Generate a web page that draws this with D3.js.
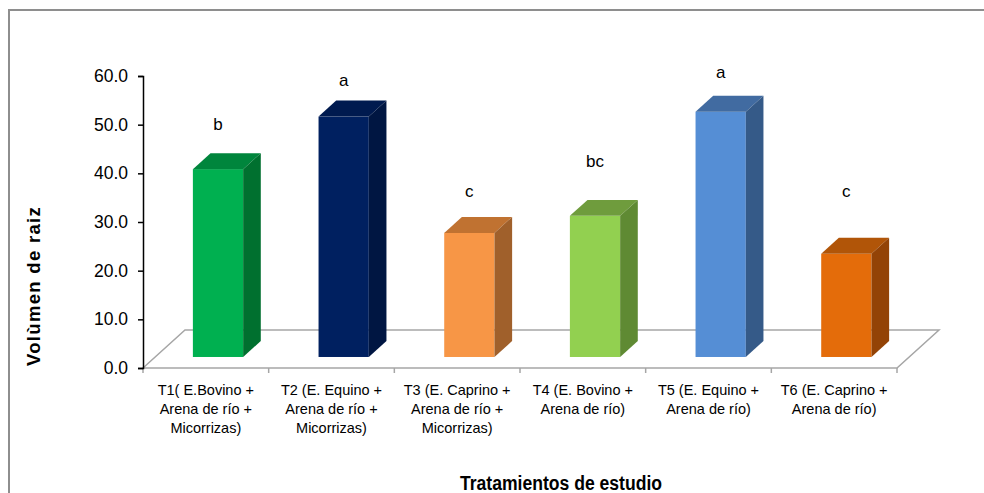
<!DOCTYPE html>
<html>
<head>
<meta charset="utf-8">
<script src="https://cdn.jsdelivr.net/npm/d3@7"></script>
<style>
  body { margin: 0; background: #fff; }
  svg { display: block; font-family: "Liberation Sans", Arial, sans-serif; }
</style>
</head>
<body>
<div id="chart"></div>
<script>
// data
var treatments = [
	["T1( E.Bovino +", "Arena de río +", "Micorrizas)"],
	["T2 (E. Equino +", "Arena de río +", "Micorrizas)"],
	["T3 (E. Caprino +", "Arena de río +", "Micorrizas)"],
	["T4 (E. Bovino +", "Arena de río)"],
	["T5 (E. Equino +", "Arena de río)"],
	["T6 (E. Caprino  +", "Arena de río)"]
]
var volumen = [38.6, 49.4, 25.5, 29.0, 50.4, 21.2]
var letras = ["b", "a", "c", "bc", "a", "c"]
// height (in axis units) where each letter sits
var letraNivel = [46.6, 55.7, 32.9, 39.0, 57.3, 32.9]
var yTicks = [0, 10, 20, 30, 40, 50, 60]

var frontColors = ["#00b050", "#002060", "#f79646", "#92d050", "#558ed5", "#e46c0a"]
var topColors   = ["#00853c", "#001a4f", "#c07231", "#6f9c3d", "#416ba1", "#b15508"]
var sideColors  = ["#00702f", "#001642", "#a0602b", "#5f8a33", "#355a88", "#934306"]

var width = 984, height = 493
var margin = { top: 76, left: 143, right: 87, bottom: 125 }

var svg = d3.select("#chart").append("svg")
	.attr("width", width)
	.attr("height", height)

// outer frame (only top and left edges are visible)
svg.append("path")
	.attr("d", "M9,493 V10 H984")
	.attr("fill", "none")
	.attr("stroke", "#8e8e8e")
	.attr("stroke-width", 2)

var y0 = height - margin.bottom   // 368
var x = d3.scaleBand()
	.domain(d3.range(treatments.length))
	.range([margin.left, width - margin.right])
var y = d3.scaleLinear()
	.domain([0, 60])
	.range([y0, margin.top])

// 3d depth of the floor
var depth = { dx: 42, dy: -38 }
var f0 = 0.29, f1 = 0.71   // bar front / back inside the depth

// floor
var floor = svg.append("g").attr("stroke", "#a6a6a6").attr("stroke-width", 1.5).attr("fill", "none")
floor.append("path")
	.attr("d", "M" + margin.left + "," + y0 +
		" L" + (margin.left + depth.dx) + "," + (y0 + depth.dy) +
		" H" + (x.range()[1] + depth.dx) +
		" L" + x.range()[1] + "," + y0 + " Z")

// x ticks at category boundaries
svg.append("g")
	.selectAll("line")
	.data(d3.range(treatments.length + 1))
	.enter().append("line")
	.attr("x1", function(d) { return margin.left + d * x.step() })
	.attr("x2", function(d) { return margin.left + d * x.step() })
	.attr("y1", y0)
	.attr("y2", y0 + 5)
	.attr("stroke", "#a6a6a6")
	.attr("stroke-width", 1.5)

// y axis
var yAxis = svg.append("g")
	.attr("transform", "translate(" + margin.left + ",0)")
	.call(d3.axisLeft(y).tickValues(yTicks).tickFormat(d3.format(".1f")).tickSize(5).tickPadding(10))
yAxis.select(".domain").attr("stroke", "#000").attr("stroke-width", 1.5)
yAxis.selectAll(".tick line").attr("stroke", "#000").attr("stroke-width", 1.5)
yAxis.selectAll("text")
	.attr("font-family", "'Liberation Sans', Arial, sans-serif")
	.attr("font-size", "17.5px")
	.attr("fill", "#000")

// bars
var bw = x.step() * 0.4
var bars = svg.append("g").selectAll("g")
	.data(volumen)
	.enter().append("g")

function geom(d, i) {
	var cx = x(i) + x.bandwidth() / 2 + depth.dx * f0
	var base = y0 + depth.dy * f0
	var h = y0 - y(d)
	var sx = depth.dx * (f1 - f0), sy = depth.dy * (f1 - f0)
	return { x0: cx - bw / 2, x1: cx + bw / 2, base: base, top: base - h, sx: sx, sy: sy }
}

bars.append("rect")
	.attr("x", function(d, i) { return geom(d, i).x0 })
	.attr("y", function(d, i) { return geom(d, i).top })
	.attr("width", bw)
	.attr("height", function(d, i) { var g = geom(d, i); return g.base - g.top })
	.attr("fill", function(d, i) { return frontColors[i] })

bars.append("path")
	.attr("d", function(d, i) {
		var g = geom(d, i)
		return "M" + g.x0 + "," + g.top + " L" + (g.x0 + g.sx) + "," + (g.top + g.sy) +
			" H" + (g.x1 + g.sx) + " L" + g.x1 + "," + g.top + " Z"
	})
	.attr("fill", function(d, i) { return topColors[i] })

bars.append("path")
	.attr("d", function(d, i) {
		var g = geom(d, i)
		return "M" + g.x1 + "," + g.top + " L" + (g.x1 + g.sx) + "," + (g.top + g.sy) +
			" V" + (g.base + g.sy) + " L" + g.x1 + "," + g.base + " Z"
	})
	.attr("fill", function(d, i) { return sideColors[i] })

// significance letters
svg.append("g").selectAll("text")
	.data(letras)
	.enter().append("text")
	.attr("x", function(d, i) { return x(i) + x.bandwidth() / 2 + depth.dx * f0 })
	.attr("y", function(d, i) { return y(letraNivel[i]) + depth.dy * f0 })
	.attr("text-anchor", "middle")
	.attr("font-size", "17px")
	.text(function(d) { return d })

// category labels
var cat = svg.append("g").selectAll("text")
	.data(treatments)
	.enter().append("text")
	.attr("x", function(d, i) { return x(i) + x.bandwidth() / 2 })
	.attr("y", 395)
	.attr("text-anchor", "middle")
	.attr("font-size", "14.5px")
cat.selectAll("tspan")
	.data(function(d) { return d })
	.enter().append("tspan")
	.attr("x", function() { return d3.select(this.parentNode).attr("x") })
	.attr("dy", function(d, j) { return j == 0 ? 0 : 19 })
	.text(function(d) { return d })

// axis titles
svg.append("text")
	.attr("transform", "translate(40,286) rotate(-90)")
	.attr("text-anchor", "middle")
	.attr("font-size", "18.5px")
	.attr("font-weight", "bold")
	.attr("letter-spacing", "1.3px")
	.text("Volùmen de raiz")

svg.append("text")
	.attr("x", 561)
	.attr("y", 490)
	.attr("text-anchor", "middle")
	.attr("font-size", "20px")
	.attr("font-weight", "bold")
	.attr("textLength", 202)
	.attr("lengthAdjust", "spacingAndGlyphs")
	.text("Tratamientos de estudio")
</script>
</body>
</html>
